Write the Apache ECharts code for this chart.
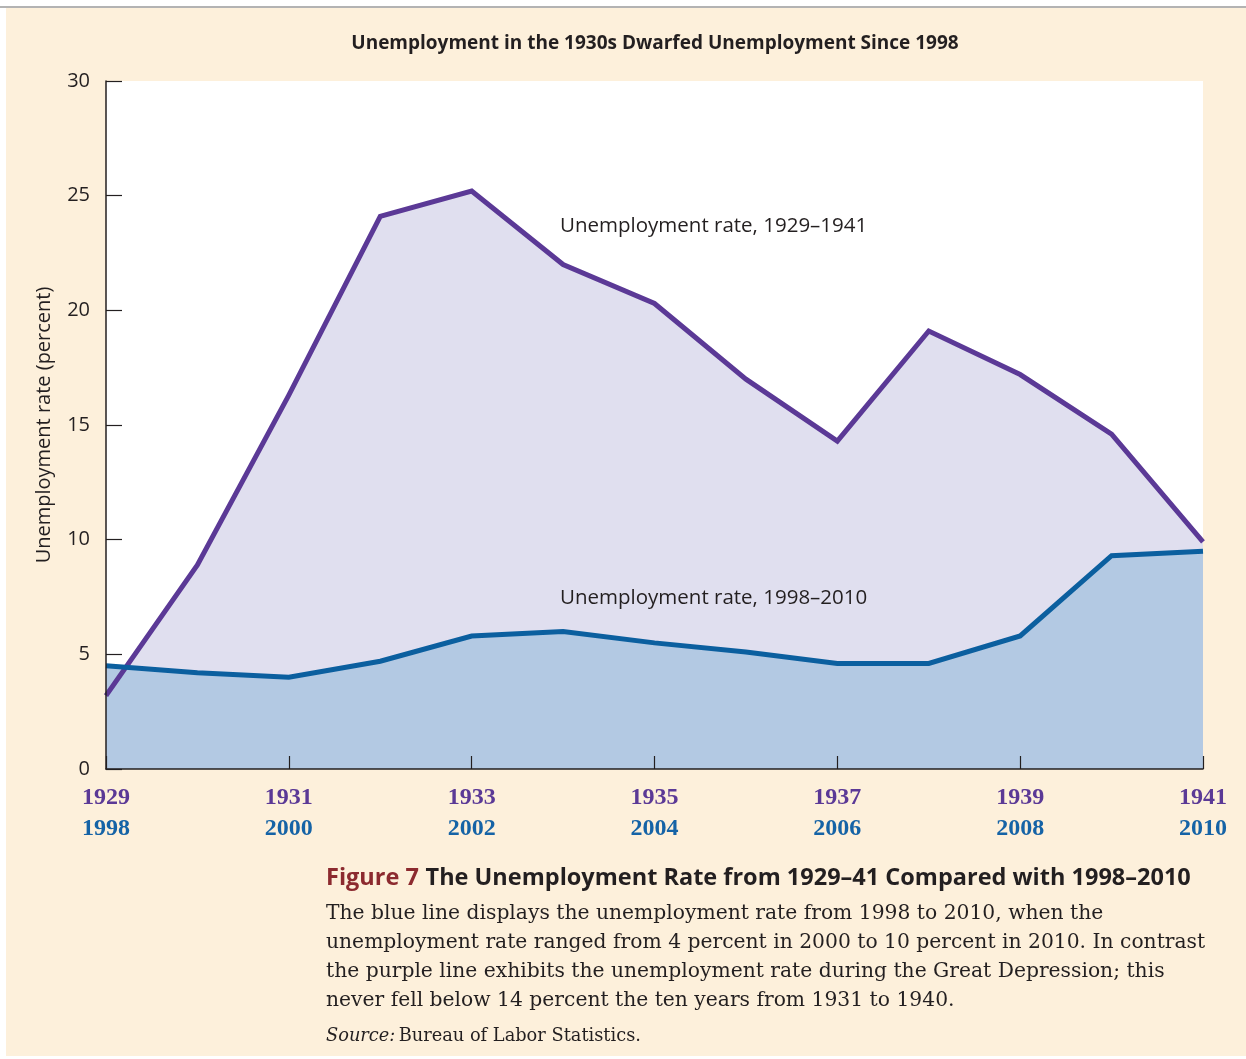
<!DOCTYPE html>
<html><head><meta charset="utf-8">
<script src="https://cdn.jsdelivr.net/npm/echarts@6/dist/echarts.min.js"></script>
<style>html,body{margin:0;padding:0;background:#fff;}#c{width:1246px;height:1059px;}</style>
</head><body><div id="c"></div>
<script>
const years1930s = ['1929','1930','1931','1932','1933','1934','1935','1936','1937','1938','1939','1940','1941'];
const years2000s = ['1998','1999','2000','2001','2002','2003','2004','2005','2006','2007','2008','2009','2010'];
const rate1930s = [3.2, 8.9, 16.3, 24.1, 25.2, 22.0, 20.3, 17.0, 14.3, 19.1, 17.2, 14.6, 9.9];
const rate2000s = [4.5, 4.2, 4.0, 4.7, 5.8, 6.0, 5.5, 5.1, 4.6, 4.6, 5.8, 9.3, 9.5];
const yTicks = [0, 5, 10, 15, 20, 25, 30];

const PURPLE = '#5b3996', BLUE = '#0b5f9f';
const PFILL = '#e0dfef', BFILL = '#b3c9e3';
const sansFont = 'Open Sans';
const serifFont = 'Liberation Serif';

const chart = echarts.init(document.getElementById('c'), null, {renderer:'canvas'});
chart.setOption({
  backgroundColor: '#ffffff',
  animation: false,
  graphic: [
    {type:'rect', z:-10, shape:{x:6, y:8, width:1240, height:1048}, style:{fill:'#fdf0db'}},
    {type:'line', z:-9, shape:{x1:0, y1:7, x2:1246, y2:7}, style:{stroke:'#9a9a9a', lineWidth:1.5}},
    {type:'text', x:655, y:44, style:{text:'Unemployment in the 1930s Dwarfed Unemployment Since 1998', font:'bold 19px "Open Sans"', fill:'#231f20', textAlign:'center', textVerticalAlign:'middle'}},
    {type:'text', x:560, y:226, z:50, style:{text:'Unemployment rate, 1929\u20131941', font:'20.5px "Open Sans"', fill:'#231f20', textVerticalAlign:'middle'}},
    {type:'text', x:560, y:598, z:50, style:{text:'Unemployment rate, 1998\u20132010', font:'20.5px "Open Sans"', fill:'#231f20', textVerticalAlign:'middle'}},
    {type:'text', x:326, y:878, style:{
      text:'{f|Figure 7}  {t|The Unemployment Rate from 1929\u201341 Compared with 1998\u20132010}', textVerticalAlign:'middle',
      rich:{f:{font:'bold 23.5px "Open Sans"', fill:'#8c2a2f'}, t:{font:'bold 23.5px "Open Sans"', fill:'#231f20'}}}},
    {type:'text', x:326, y:899, style:{
      text:'The blue line displays the unemployment rate from 1998 to 2010, when the\nunemployment rate ranged from 4 percent in 2000 to 10 percent in 2010. In contrast\nthe purple line exhibits the unemployment rate during the Great Depression; this\nnever fell below 14 percent the ten years from 1931 to 1940.',
      font:'20.3px "DejaVu Serif"', fill:'#231f20', lineHeight:29.2}},
    {type:'text', x:326, y:1036, style:{
      text:'{i|Source:} {n|Bureau of Labor Statistics.}', textVerticalAlign:'middle',
      rich:{i:{font:'italic 17.8px "DejaVu Serif"', fill:'#231f20'}, n:{font:'17.8px "DejaVu Serif"', fill:'#231f20'}}}}
  ],
  grid: {left:106, right:43, top:81, bottom:290, show:true, backgroundColor:'#ffffff', borderWidth:0},
  xAxis: {
    type:'category', boundaryGap:false, data: years1930s, z:10,
    axisLine:{show:true, lineStyle:{color:'#231f20', width:1.5}},
    axisTick:{show:true, inside:true, length:13, interval:1, lineStyle:{color:'#231f20', width:1.2}},
    axisLabel:{interval:1, margin:13, formatter:(v, i)=> '{a|'+years1930s[i]+'}\n{b|'+years2000s[i]+'}',
      rich:{a:{fontFamily:serifFont, fontWeight:'bold', fontSize:24, color:PURPLE, lineHeight:31, align:'center'},
            b:{fontFamily:serifFont, fontWeight:'bold', fontSize:24, color:'#1563a6', lineHeight:31, align:'center'}}},
    splitLine:{show:false}
  },
  yAxis: {
    type:'value', min:yTicks[0], max:yTicks[yTicks.length-1], interval:5, z:10,
    name:'Unemployment rate (percent)', nameLocation:'middle', nameGap:52, nameRotate:90,
    nameTextStyle:{fontFamily:sansFont, fontSize:20, color:'#231f20'},
    axisLine:{show:true, lineStyle:{color:'#231f20', width:1.5}},
    axisTick:{show:true, inside:true, length:16, lineStyle:{color:'#231f20', width:1.2}},
    axisLabel:{margin:16, fontFamily:sansFont, fontSize:20, color:'#231f20'},
    splitLine:{show:false}
  },
  series: [
    {type:'line', data:rate1930s, symbol:'none', z:1, lineStyle:{width:0}, areaStyle:{color:PFILL, opacity:1}},
    {type:'line', data:rate2000s, symbol:'none', z:2, lineStyle:{width:0}, areaStyle:{color:BFILL, opacity:1}},
    {type:'line', data:rate1930s, symbol:'none', z:3, lineStyle:{width:5, color:PURPLE, join:'miter'}},
    {type:'line', data:rate2000s, symbol:'none', z:4, lineStyle:{width:5, color:BLUE, join:'miter'}}
  ]
});
</script></body></html>
